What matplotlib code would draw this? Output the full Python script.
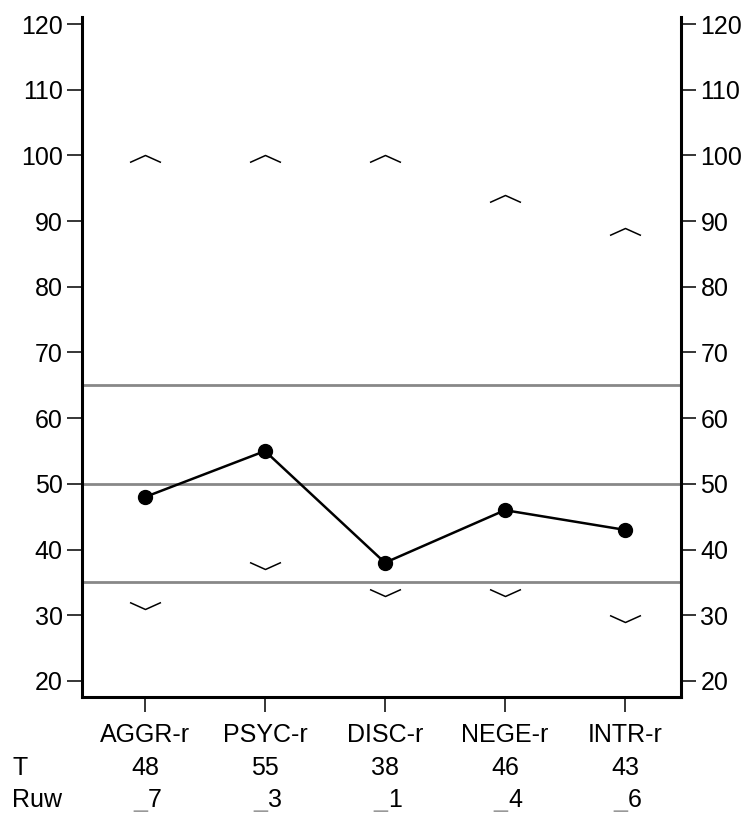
import matplotlib
matplotlib.use("Agg")
import matplotlib.pyplot as plt
from matplotlib.path import Path
from matplotlib.transforms import blended_transform_factory

plt.rcParams['font.family'] = ['Liberation Sans', 'DejaVu Sans']

categories = ["AGGR-r", "PSYC-r", "DISC-r", "NEGE-r", "INTR-r"]
t_scores = [48, 55, 38, 46, 43]
raw_scores = [7, 3, 1, 4, 6]
upper_marks = [100, 100, 100, 94, 89]
lower_marks = [31, 37, 33, 33, 29]
ref_lines = [35, 50, 65]
y_ticks = [20, 30, 40, 50, 60, 70, 80, 90, 100, 110, 120]

FS = 18

fig = plt.figure(figsize=(7.48, 8.16), dpi=100)
ax = fig.add_axes([82/748, 1-697/816, (681-82)/748, (697-17)/816])

x = list(range(len(categories)))
ax.set_xlim(-0.525, len(categories) - 1 + 0.467)
ax.set_ylim(17.56, 121.07)

for v in ref_lines:
    ax.axhline(v, color='#888888', lw=2.0, zorder=1)

up = Path([(-1, -0.45), (0, 0), (1, -0.45)], [Path.MOVETO, Path.LINETO, Path.LINETO])
dn = Path([(-1, 0.45), (0, 0), (1, 0.45)], [Path.MOVETO, Path.LINETO, Path.LINETO])
ax.plot(x, upper_marks, ls='none', marker=up, ms=22.3, mew=1.1, mec='black', mfc='none', zorder=2)
ax.plot(x, lower_marks, ls='none', marker=dn, ms=22.3, mew=1.1, mec='black', mfc='none', zorder=2)

ax.plot(x, t_scores, color='black', lw=1.8, marker='o', ms=10, mfc='black', mec='black', zorder=3)

ax.spines['top'].set_visible(False)
for s in ['left', 'right', 'bottom']:
    ax.spines[s].set_linewidth(2.2)

ax.set_yticks(y_ticks)
ax.tick_params(axis='y', which='both', left=True, right=True, labelleft=True, labelright=True,
               direction='out', length=11, width=1.1, labelsize=FS, pad=3.0)
ax.set_xticks(x)
ax.set_xticklabels([])
ax.tick_params(axis='x', direction='out', length=11, width=1.1)

tr = blended_transform_factory(ax.transData, fig.transFigure)
for i, c in enumerate(categories):
    ax.text(i, 1-735/816, c, transform=tr, ha='center', va='center', fontsize=FS)
    ax.text(i, 1-768/816, str(t_scores[i]), transform=tr, ha='center', va='center', fontsize=FS)
    ax.text(i + 0.025, 1-800/816, str(raw_scores[i]), transform=tr, ha='left', va='center', fontsize=FS)
    ax.text(i + 0.02, 1-800/816, "_", transform=tr, ha='right', va='center', fontsize=FS, color='#999999')

fig.text(12/748, 1-768/816, "T", ha='left', va='center', fontsize=FS)
fig.text(12/748, 1-800/816, "Ruw", ha='left', va='center', fontsize=FS)

fig.savefig("out.png", dpi=100)
